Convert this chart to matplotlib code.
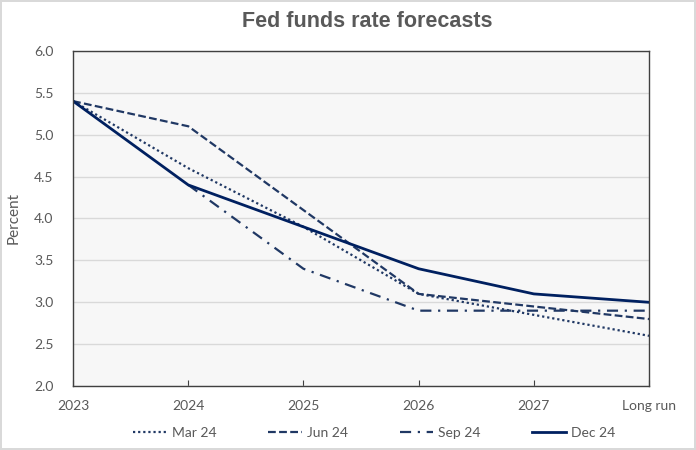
import numpy as np
import matplotlib
matplotlib.use('Agg')
import matplotlib.pyplot as plt

# Data
categories = ['2023', '2024', '2025', '2026', '2027', 'Long run']
mar24 = [5.4, 4.6, 3.9, 3.1, 2.85, 2.6]
jun24 = [5.4, 5.1, 4.1, 3.1, 2.95, 2.8]
sep24 = [np.nan, 4.4, 3.4, 2.9, 2.9, 2.9]
dec24 = [5.4, 4.4, 3.9, 3.4, 3.1, 3.0]
y_ticks = [2.0, 2.5, 3.0, 3.5, 4.0, 4.5, 5.0, 5.5, 6.0]

text_col = '#595959'
navy = '#002060'
blue = '#203864'

plt.rcParams['font.family'] = ['Lato', 'DejaVu Sans']

fig = plt.figure(figsize=(6.96, 4.5), dpi=100)
fig.patch.set_facecolor('white')
fig.patch.set_edgecolor('#d9d9d9')
fig.patch.set_linewidth(1.5)
ax = fig.add_axes([0.105, 0.142, 0.8275, 0.745])
ax.set_facecolor('#f7f7f7')

x = np.arange(len(categories))
ax.plot(x, mar24, color=blue, lw=1.6, linestyle=(0, (1, 1.3)), label='Mar 24')
ax.plot(x, jun24, color=blue, lw=1.6, linestyle=(0, (3.5, 1.5)), label='Jun 24')
ax.plot(x, sep24, color=blue, lw=1.6, linestyle=(0, (5, 3, 1, 3)), label='Sep 24')
ax.plot(x, dec24, color=navy, lw=2.0, linestyle='-', label='Dec 24')

ax.set_xlim(0, 5)
ax.set_ylim(2.0, 6.0)
ax.set_yticks(y_ticks)
ax.set_yticklabels([f'{v:.1f}' for v in y_ticks])
ax.set_xticks(x)
ax.set_xticklabels(categories)
ax.grid(axis='y', color='#d9d9d9', lw=1)
ax.set_axisbelow(True)

ax.tick_params(axis='y', length=0, pad=14, labelsize=10, labelcolor=text_col)
ax.tick_params(axis='x', direction='in', length=4, pad=10, labelsize=10,
               labelcolor=text_col, color='#404040')
for s in ax.spines.values():
    s.set_color('#404040')
    s.set_linewidth(1)

ax.set_ylabel('Percent', fontsize=11, color=text_col, labelpad=10)

fig.text(0.528, 0.952, 'Fed funds rate forecasts', ha='center', va='center',
         fontsize=15.5, fontweight='bold', color=text_col, family='Liberation Sans')

ax.legend(loc='center', bbox_to_anchor=(0.538, 0.038), bbox_transform=fig.transFigure,
          ncol=4, frameon=False, fontsize=10, labelcolor=text_col,
          handlelength=2.4, handletextpad=0.4, columnspacing=3.7)

fig.savefig('out.png', dpi=100)
